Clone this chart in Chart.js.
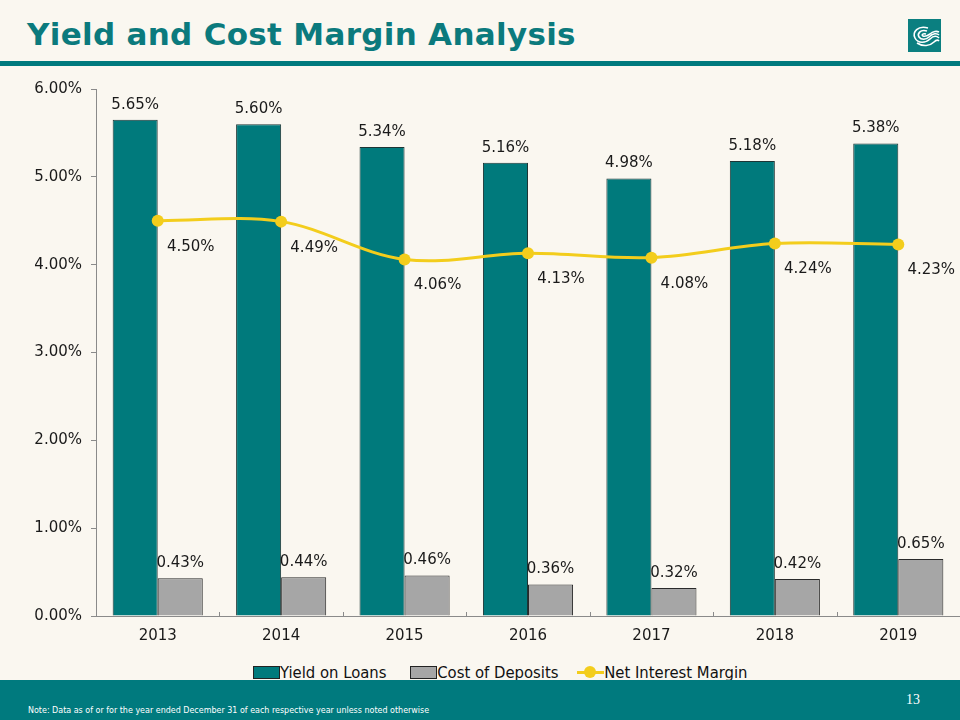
<!DOCTYPE html>
<html>
<head>
<meta charset="utf-8">
<script src="https://cdn.jsdelivr.net/npm/chart.js@4"></script>
<style>
  body { margin: 0; background: #FAF7F0; font-family: "DejaVu Sans", sans-serif; }
  #page { position: relative; width: 960px; height: 720px; overflow: hidden; background: #FAF7F0; }
  #title { position: absolute; left: 27px; top: 16px; font-size: 31px; font-weight: bold; color: #0B7A7D; letter-spacing: 0.3px; }
  #rule { position: absolute; left: 0; top: 61px; width: 960px; height: 5px; background: #007A7E; }
  #logo { position: absolute; left: 908px; top: 19px; width: 33px; height: 33px; }
  #wrap { position: absolute; left: 0; top: 71px; width: 966px; height: 590px; }
  #legend { position: absolute; left: 253px; top: 662px; white-space: nowrap; font-family: "DejaVu Sans Condensed", sans-serif; font-size: 16.5px; color: #111; }
  .item { display: inline-block; vertical-align: middle; }
  .box { display: inline-block; width: 25px; height: 11px; border: 1px solid #222; vertical-align: middle; position: relative; top: -1px; }
  .ln { display: inline-block; width: 27px; height: 3px; background: #F3CD1C; vertical-align: middle; position: relative; top: -1px; }
  .ln i { position: absolute; left: 7px; top: -5px; width: 12px; height: 12px; border-radius: 50%; background: #F3CD1C; }
  #footer { position: absolute; left: 0; top: 680px; width: 960px; height: 40px; background: #007A7E; }
  #note { position: absolute; left: 28px; top: 25px; font-family: "DejaVu Sans Condensed", sans-serif; font-size: 8.9px; color: #fff; white-space: nowrap; }
  #pg { position: absolute; left: 906px; top: 12px; font-family: "Liberation Serif", serif; font-size: 14px; color: #fff; }
</style>
</head>
<body>
<div id="page">
  <div id="title">Yield and Cost Margin Analysis</div>
  <svg id="logo" viewBox="0 0 33 33">
    <rect width="33" height="33" fill="#0B7F80"/>
    <g fill="none" stroke="#fff" stroke-width="1.6">
      <path d="M20 9 C10 6 4 13 7 19 C10 25 18 24 22 20 C26 16 29 17 31 19"/>
      <path d="M19 12 C12 10 9 15 11 18 C13 21 18 21 21 18 C25 14 29 14 31 16"/>
      <path d="M18 15 C15 14 13 16 15 17 C17 18 19 17 22 15 C25 12 29 12 31 13"/>
      <path d="M9 24 C15 28 22 27 26 23 C28 21 30 21 31 22"/>
    </g>
  </svg>
  <div id="rule"></div>
  <div id="wrap"><canvas id="chart" width="966" height="590"></canvas></div>
  <div id="legend">
    <span class="item"><span class="box" style="background:#007A7C"></span>Yield on Loans</span>
    <span class="item" style="margin-left:19px"><span class="box" style="background:#A6A6A6"></span>Cost of Deposits</span>
    <span class="item" style="margin-left:14px"><span class="ln"><i></i></span>Net Interest Margin</span>
  </div>
  <div id="footer">
    <div id="pg">13</div>
    <div id="note">Note: Data as of or for the year ended December 31 of each respective year unless noted otherwise</div>
  </div>
</div>
<script>
// datos del gráfico
const years = ['2013', '2014', '2015', '2016', '2017', '2018', '2019'];
const yieldOnLoans = [5.65, 5.60, 5.34, 5.16, 4.98, 5.18, 5.38];
const costOfDeposits = [0.43, 0.44, 0.46, 0.36, 0.32, 0.42, 0.65];
const netInterestMargin = [4.50, 4.49, 4.06, 4.13, 4.08, 4.24, 4.23];
const yTicks = [0, 1, 2, 3, 4, 5, 6];

const FONT = '"DejaVu Sans", sans-serif';

// etiquetas de valores (sin plugin externo)
const valueLabels = {
  id: 'valueLabels',
  afterDatasetsDraw(chart) {
    const ctx = chart.ctx;
    ctx.save();
    ctx.font = '15px ' + FONT;
    ctx.fillStyle = '#1a1a1a';
    ctx.textAlign = 'center';
    ctx.textBaseline = 'middle';
    chart.data.datasets.forEach((ds, i) => {
      const meta = chart.getDatasetMeta(i);
      meta.data.forEach((el, j) => {
        const txt = ds.data[j].toFixed(2) + '%';
        if (ds.type === 'line') {
          ctx.fillText(txt, el.x + 33, el.y + 26);
        } else {
          ctx.fillText(txt, el.x, el.y - 15);
        }
      });
    });
    // marcas del eje x entre categorías (hacia adentro)
    const x = chart.scales.x;
    const bottom = chart.chartArea.bottom;
    ctx.strokeStyle = '#8a8a8a';
    ctx.lineWidth = 1;
    for (let i = 0; i < years.length - 1; i++) {
      const px = Math.round((x.getPixelForValue(i) + x.getPixelForValue(i + 1)) / 2) + 0.5;
      ctx.beginPath();
      ctx.moveTo(px, bottom);
      ctx.lineTo(px, bottom - 4);
      ctx.stroke();
    }
    ctx.restore();
  }
};

new Chart(document.getElementById('chart'), {
  data: {
    labels: years,
    datasets: [
      {
        type: 'line',
        label: 'Net Interest Margin',
        data: netInterestMargin,
        borderColor: '#F3CD1C',
        backgroundColor: '#F3CD1C',
        borderWidth: 3,
        pointRadius: 6,
        pointHoverRadius: 6,
        pointBorderWidth: 0,
        tension: 0.35,
        order: 0
      },
      {
        type: 'bar',
        label: 'Yield on Loans',
        data: yieldOnLoans,
        backgroundColor: '#007A7C',
        borderColor: '#1d3535',
        borderWidth: 1,
        barPercentage: 1,
        categoryPercentage: 0.73,
        order: 1
      },
      {
        type: 'bar',
        label: 'Cost of Deposits',
        data: costOfDeposits,
        backgroundColor: '#A6A6A6',
        borderColor: '#2a2a2a',
        borderWidth: 1,
        barPercentage: 1,
        categoryPercentage: 0.73,
        order: 1
      }
    ]
  },
  options: {
    responsive: false,
    animation: false,
    layout: { padding: { top: 18, right: 1, left: 0, bottom: 0 } },
    plugins: { legend: { display: false }, tooltip: { enabled: false } },
    scales: {
      x: {
        grid: { display: false },
        border: { color: '#8a8a8a' },
        ticks: { color: '#1a1a1a', font: { family: FONT, size: 15 }, padding: 3 },
        afterFit: s => { s.height = 45; s.paddingLeft = 0; s.paddingRight = 0; }
      },
      y: {
        min: 0,
        max: 6,
        afterBuildTicks: s => { s.ticks = yTicks.map(v => ({ value: v })); },
        grid: { drawOnChartArea: false, tickLength: 5, color: '#8a8a8a' },
        border: { color: '#8a8a8a' },
        ticks: {
          color: '#1a1a1a',
          font: { family: FONT, size: 15 },
          padding: 9,
          callback: v => v.toFixed(2) + '%'
        },
        afterFit: s => { s.width = 96; s.paddingTop = 0; s.paddingBottom = 0; }
      }
    }
  },
  plugins: [valueLabels]
});
</script>
</body>
</html>
